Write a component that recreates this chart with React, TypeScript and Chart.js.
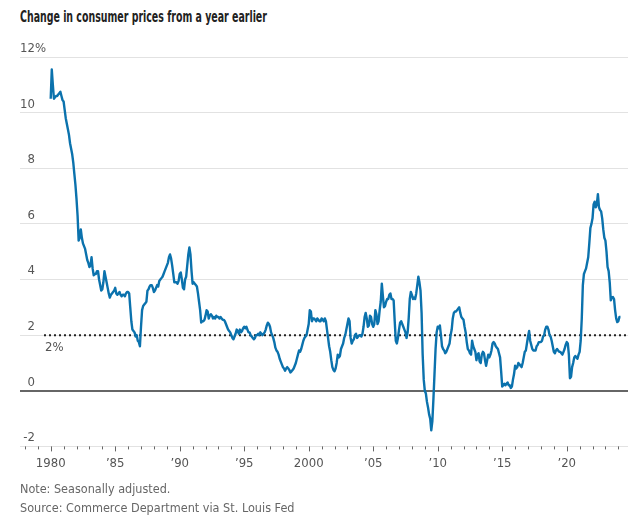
import React, { useEffect, useRef } from "react";
import { Chart, registerables } from "chart.js";

Chart.register(...registerables);

// Monthly PCE price index, % change from a year earlier, starting January 1980
const START_YEAR = 1980;

const pce1980s = [
  10.5, 11.55, 11.0, 10.5, 10.55, 10.6, 10.6, 10.65, 10.7, 10.75, 10.6, 10.45,
  10.4, 10.1, 9.8, 9.6, 9.4, 9.2, 8.9, 8.7, 8.5, 8.2, 7.8, 7.4,
  6.9, 6.3, 5.4, 5.5, 5.8, 5.5, 5.3, 5.2, 5.1, 4.9, 4.7, 4.6,
  4.45, 4.5, 4.8, 4.4, 4.15, 4.2, 4.2, 4.3, 4.3, 4.0, 3.8, 3.6,
  3.65, 3.9, 4.3, 4.1, 3.9, 3.7, 3.5, 3.35, 3.45, 3.5, 3.55, 3.6,
  3.7, 3.5, 3.45, 3.5, 3.55, 3.45, 3.4, 3.45, 3.45, 3.4, 3.5, 3.55,
  3.55, 3.5, 3.0, 2.5, 2.2, 2.15, 2.1, 1.95, 2.0, 1.8, 1.75, 1.6,
  2.3, 2.9, 3.05, 3.1, 3.15, 3.2, 3.6, 3.65, 3.75, 3.8, 3.8, 3.7,
  3.55, 3.6, 3.7, 3.8, 3.75, 3.95, 4.0, 4.05, 4.1, 4.2, 4.3, 4.4,
  4.5, 4.6, 4.8, 4.9, 4.75, 4.5, 4.2, 3.9, 3.9, 3.9, 3.85, 3.95,
];

const pce1990s = [
  4.2, 4.25, 4.0, 3.7, 3.65, 4.0, 4.1, 4.5, 4.9, 5.15, 4.9, 4.3,
  3.85, 3.9, 3.85, 3.8, 3.75, 3.5, 3.2, 2.9, 2.45, 2.5, 2.5, 2.55,
  2.7, 2.9, 2.85, 2.6, 2.7, 2.75, 2.7, 2.6, 2.65, 2.6, 2.7, 2.65,
  2.65, 2.6, 2.65, 2.6, 2.55, 2.55, 2.5, 2.4, 2.3, 2.2, 2.15, 2.1,
  2.0, 1.9, 1.85, 1.95, 2.05, 2.2, 2.15, 2.05, 2.2, 2.1, 2.15, 2.25,
  2.3, 2.25, 2.3, 2.2, 2.1, 2.1, 2.0, 1.95, 1.9, 1.85, 1.9, 2.0,
  2.0, 2.05, 2.0, 2.1, 2.05, 2.0, 2.05, 2.1, 2.2, 2.35, 2.45, 2.4,
  2.3, 2.1, 2.0, 1.9, 1.75, 1.55, 1.45, 1.4, 1.3, 1.15, 1.05, 0.95,
  0.85, 0.8, 0.72, 0.8, 0.85, 0.8, 0.75, 0.66, 0.7, 0.75, 0.8, 0.9,
  1.0, 1.15, 1.3, 1.45, 1.4, 1.5, 1.65, 1.8, 1.9, 1.95, 2.0, 2.2,
];

const pce2000s = [
  2.4, 2.9, 2.85, 2.5, 2.6, 2.6, 2.55, 2.5, 2.6, 2.55, 2.5, 2.5,
  2.6, 2.55, 2.5, 2.6, 2.5, 2.2, 1.9, 1.6, 1.4, 1.1, 0.85, 0.75,
  0.7, 0.8, 1.0, 1.3, 1.2, 1.25, 1.5, 1.6, 1.7, 1.9, 2.0, 2.2,
  2.4, 2.6, 2.5, 1.9, 1.7, 1.8, 1.85, 2.0, 2.05, 1.9, 1.95, 2.0,
  2.0, 1.95, 2.05, 2.3, 2.65, 2.8, 2.6, 2.3, 2.35, 2.7, 2.65, 2.4,
  2.3, 2.4, 2.9, 2.75, 2.4, 2.5, 2.9, 3.2, 3.85, 3.4, 3.0, 3.05,
  3.2, 3.3, 3.3, 3.45, 3.5, 3.3, 3.3, 3.25, 2.5, 1.8, 1.7, 1.9,
  2.2, 2.45, 2.5, 2.4, 2.3, 2.2, 2.1, 1.9, 2.1, 2.6, 3.3, 3.55,
  3.45, 3.3, 3.35, 3.3, 3.5, 3.8, 4.1, 3.9, 3.6, 2.8, 1.3, 0.4,
  0.0, -0.1, -0.4, -0.6, -0.85, -1.0, -1.42, -1.1, -0.3, 0.6, 1.5, 2.1,
];

const pce2010s = [
  2.3, 2.25, 2.35, 2.0, 1.6, 1.5, 1.45, 1.35, 1.4, 1.5, 1.6, 1.7,
  2.0, 2.2, 2.6, 2.8, 2.85, 2.85, 2.9, 2.95, 3.0, 2.8, 2.65, 2.6,
  2.55, 2.3, 2.1, 1.75, 1.5, 1.45, 1.35, 1.3, 1.8, 1.6, 1.5, 1.4,
  1.1, 1.3, 1.35, 1.05, 1.0, 1.3, 1.4, 1.35, 1.1, 0.9, 1.1, 1.3,
  1.2, 1.3, 1.45, 1.7, 1.75, 1.7, 1.6, 1.55, 1.5, 1.35, 1.2, 0.7,
  0.15, 0.2, 0.25, 0.2, 0.25, 0.3, 0.2, 0.2, 0.1, 0.15, 0.4, 0.6,
  0.9, 0.8, 0.85, 1.0, 0.95, 0.9, 0.85, 1.0, 1.2, 1.4, 1.45, 1.7,
  1.95, 2.15, 1.8, 1.65, 1.5, 1.45, 1.45, 1.45, 1.6, 1.65, 1.75, 1.75,
  1.75, 1.8, 1.95, 2.0, 2.2, 2.3, 2.3, 2.2, 2.0, 1.95, 1.8, 1.6,
  1.4, 1.35, 1.45, 1.5, 1.45, 1.4, 1.4, 1.35, 1.3, 1.4, 1.5, 1.65,
];

const pce2020s = [
  1.75, 1.7, 1.3, 0.45, 0.5, 0.85, 1.0, 1.2, 1.25, 1.2, 1.15, 1.3,
  1.4, 1.8, 2.6, 3.8, 4.2, 4.3, 4.4, 4.6, 4.8, 5.3, 5.85, 6.0,
  6.2, 6.7, 6.8, 6.6, 6.7, 7.07, 6.6, 6.5, 6.45, 6.2, 5.8, 5.5,
  5.4, 5.0, 4.45, 4.3, 3.9, 3.25, 3.35, 3.37, 3.3, 2.9, 2.6, 2.47,
  2.5, 2.65, 2.65,
];

const yTickValues = [-2, 0, 2, 4, 6, 8, 10, 12];
const xLabelYears = [1980, 1985, 1990, 1995, 2000, 2005, 2010, 2015, 2020];
const xLabelTexts = ["1980", "\u201985", "\u201990", "\u201995", "2000", "\u201905", "\u201910", "\u201915", "\u201920"];
const targetRate = 2;
const targetLabel = "2%";
const targetStartYear = 1979.48;
const X_MIN = 1977.62;
const X_MAX = 2024.75;

const FONT = '"DejaVu Sans Condensed", "Liberation Sans", sans-serif';
const LINE_BLUE = "#0b72ad";
const LABEL_GRAY = "#555555";

const allValues = [...pce1980s, ...pce1990s, ...pce2000s, ...pce2010s, ...pce2020s];

const wsjPlugin = {
  id: "wsjDecor",
  afterDraw(chart: any) {
    const { ctx, chartArea, scales } = chart;
    const xs = scales.x;
    const ys = scales.y;
    ctx.save();
    // x tick marks
    ctx.strokeStyle = "#666";
    ctx.lineWidth = 1;
    xs.ticks.forEach((t: any) => {
      const px = Math.round(xs.getPixelForValue(t.value)) + 0.5;
      const len = t.value % 5 === 0 ? 5 : 3;
      ctx.beginPath();
      ctx.moveTo(px, chartArea.bottom);
      ctx.lineTo(px, chartArea.bottom + len);
      ctx.stroke();
    });
    // y labels above gridlines
    ctx.font = `13px ${FONT}`;
    ctx.fillStyle = LABEL_GRAY;
    ctx.textBaseline = "middle";
    yTickValues.forEach((v) => {
      const py = ys.getPixelForValue(v) - 8.5;
      const rx = chartArea.left + 15;
      ctx.textAlign = "right";
      ctx.fillText(String(v), rx, py);
      if (v === 12) {
        ctx.textAlign = "left";
        ctx.fillText("%", rx, py);
      }
    });
    // target label
    ctx.textAlign = "left";
    ctx.fillText(targetLabel, xs.getPixelForValue(targetStartYear) + 1, ys.getPixelForValue(targetRate) + 12);
    ctx.restore();
  },
};

function FitText(props: { text: string; width: number; style: any }) {
  const ref = useRef<HTMLDivElement | null>(null);
  useEffect(() => {
    const el = ref.current;
    if (!el) return;
    const w = el.offsetWidth;
    if (w > 0) el.style.transform = `scaleX(${props.width / w})`;
  }, [props.text, props.width]);
  return (
    <div ref={ref} style={{ position: "absolute", whiteSpace: "nowrap", transformOrigin: "left center", ...props.style }}>
      {props.text}
    </div>
  );
}

export default function App() {
  const canvasRef = useRef<HTMLCanvasElement | null>(null);

  useEffect(() => {
    if (!canvasRef.current) return;
    const points = allValues.map((v, i) => ({ x: START_YEAR + i / 12, y: v }));
    const chart = new Chart(canvasRef.current, {
      type: "line",
      data: {
        datasets: [
          {
            data: points,
            borderColor: LINE_BLUE,
            borderWidth: 2.4,
            pointRadius: 0,
            tension: 0,
            fill: false,
            borderJoinStyle: "round",
          },
          {
            data: [
              { x: targetStartYear, y: targetRate },
              { x: X_MAX, y: targetRate },
            ],
            borderColor: "#222",
            borderWidth: 2,
            borderDash: [2, 3],
            pointRadius: 0,
            fill: false,
          },
        ],
      },
      options: {
        animation: false,
        responsive: false,
        maintainAspectRatio: false,
        layout: { padding: { left: 20, right: 12, top: 27, bottom: 4 } },
        plugins: { legend: { display: false }, tooltip: { enabled: false } },
        scales: {
          x: {
            type: "linear",
            min: X_MIN,
            max: X_MAX,
            grid: { display: false, drawTicks: false },
            border: { display: false },
            ticks: {
              stepSize: 1,
              includeBounds: false,
              autoSkip: false,
              maxRotation: 0,
              padding: 9,
              color: LABEL_GRAY,
              font: { family: FONT, size: 13 },
              callback: (value: any) => {
                const idx = xLabelYears.indexOf(Number(value));
                return idx >= 0 ? xLabelTexts[idx] : "";
              },
            },
          },
          y: {
            min: -2,
            max: 12,
            border: { display: false },
            ticks: { stepSize: 2, display: false },
            grid: {
              drawTicks: false,
              color: (c: any) => (c.tick && c.tick.value === 0 ? "#666" : "#e2e2e2"),
              lineWidth: (c: any) => (c.tick && c.tick.value === 0 ? 2 : 1),
            },
          },
        },
      },
      plugins: [wsjPlugin],
    });
    return () => chart.destroy();
  }, []);

  return (
    <div style={{ position: "absolute", left: 0, top: 0, width: 640, height: 527, background: "#fff", fontFamily: FONT }}>
      <canvas ref={canvasRef} width={640} height={454} style={{ position: "absolute", left: 0, top: 30, width: 640, height: 454 }} />
      <FitText
        text="Change in consumer prices from a year earlier"
        width={247}
        style={{ left: 20, top: 7, fontSize: 16, fontWeight: "bold", color: "#222" }}
      />
      <FitText text="Note: Seasonally adjusted." width={150} style={{ left: 20, top: 481, fontSize: 13, color: "#666" }} />
      <FitText
        text="Source: Commerce Department via St. Louis Fed"
        width={275}
        style={{ left: 20, top: 500, fontSize: 13, color: "#666" }}
      />
    </div>
  );
}
